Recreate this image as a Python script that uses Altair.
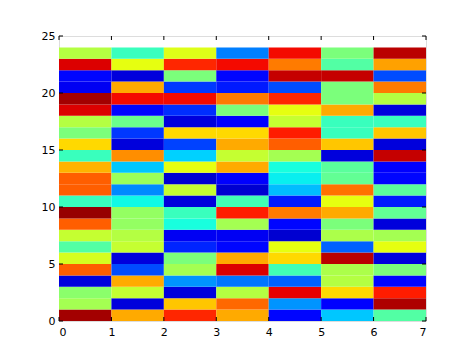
import altair as alt
import pandas as pd

# rows from bottom (row 0) to top (row 23); 7 columns each; values in [0,1] on the jet colormap
row_values = [
    [0.97, 0.73, 0.87, 0.73, 0.13, 0.32, 0.45],  # 0
    [0.55, 0.08, 0.70, 0.80, 0.27, 0.12, 0.96],  # 1
    [0.52, 0.59, 0.08, 0.57, 0.91, 0.68, 0.88],  # 2
    [0.08, 0.73, 0.27, 0.24, 0.22, 0.57, 0.13],  # 3
    [0.81, 0.20, 0.55, 0.92, 0.43, 0.56, 0.50],  # 4
    [0.61, 0.08, 0.50, 0.73, 0.68, 0.95, 0.08],  # 5
    [0.45, 0.59, 0.16, 0.13, 0.63, 0.22, 0.63],  # 6
    [0.59, 0.57, 0.10, 0.10, 0.07, 0.56, 0.55],  # 7
    [0.81, 0.53, 0.38, 0.55, 0.13, 0.50, 0.08],  # 8
    [0.98, 0.53, 0.42, 0.88, 0.78, 0.73, 0.47],  # 9
    [0.42, 0.37, 0.08, 0.43, 0.15, 0.63, 0.15],  # 10
    [0.81, 0.26, 0.59, 0.07, 0.31, 0.79, 0.46],  # 11
    [0.81, 0.54, 0.07, 0.12, 0.36, 0.47, 0.13],  # 12
    [0.72, 0.32, 0.63, 0.73, 0.38, 0.46, 0.12],  # 13
    [0.42, 0.76, 0.33, 0.59, 0.55, 0.08, 0.94],  # 14
    [0.68, 0.08, 0.19, 0.73, 0.81, 0.70, 0.08],  # 15
    [0.50, 0.18, 0.68, 0.68, 0.88, 0.42, 0.70],  # 16
    [0.57, 0.48, 0.08, 0.12, 0.59, 0.42, 0.42],  # 17
    [0.92, 0.13, 0.17, 0.50, 0.63, 0.73, 0.08],  # 18
    [0.97, 0.90, 0.90, 0.78, 0.87, 0.50, 0.57],  # 19
    [0.10, 0.73, 0.18, 0.15, 0.20, 0.50, 0.78],  # 20
    [0.13, 0.08, 0.50, 0.13, 0.94, 0.94, 0.20],  # 21
    [0.92, 0.63, 0.87, 0.90, 0.78, 0.45, 0.74],  # 22
    [0.57, 0.42, 0.62, 0.25, 0.90, 0.50, 0.95],  # 23
]
x_ticks = [0, 1, 2, 3, 4, 5, 6, 7]
y_ticks = [0, 5, 10, 15, 20, 25]

# jet colormap stops
jet_domain = [0, 0.11, 0.125, 0.34, 0.35, 0.375, 0.64, 0.65, 0.66, 0.89, 0.91, 1]
jet_range = ["#000080", "#0000ff", "#0000ff", "#00dbff", "#00e5f7", "#14ffe2",
             "#eeff08", "#f7f500", "#ffec00", "#ff1300", "#e80000", "#800000"]

records = []
for r, vals in enumerate(row_values):
    for c, v in enumerate(vals):
        records.append({"x": c, "x2": c + 1, "y": r, "y2": r + 1, "v": v})
df = pd.DataFrame(records)

W, H = 367, 285

xscale = alt.Scale(domain=[0, 7], nice=False, zero=False)
yscale = alt.Scale(domain=[0, 25], nice=False, zero=False)

cells = alt.Chart(df).mark_rect(strokeWidth=0).encode(
    x=alt.X("x:Q", scale=xscale, axis=alt.Axis(values=x_ticks, title=None, ticks=False,
            grid=False, domain=False, labelFontSize=11, labelPadding=5,
            labelFont="DejaVu Sans", labelColor="black", format="d")),
    x2="x2:Q",
    y=alt.Y("y:Q", scale=yscale, axis=alt.Axis(values=y_ticks, title=None, ticks=False,
            grid=False, domain=False, labelFontSize=11, labelPadding=4,
            labelFont="DejaVu Sans", labelColor="black", format="d")),
    y2="y2:Q",
    color=alt.Color("v:Q", scale=alt.Scale(domain=jet_domain, range=jet_range,
                    interpolate="rgb"), legend=None),
)

xt = pd.DataFrame({"t": x_ticks})
yt = pd.DataFrame({"t": y_ticks})
tick_len = 4
xb = alt.Chart(xt).mark_rule(color="black", strokeWidth=1).encode(
    x=alt.X("t:Q", scale=xscale), y=alt.value(H), y2=alt.value(H - tick_len))
xtop = alt.Chart(xt).mark_rule(color="black", strokeWidth=1).encode(
    x=alt.X("t:Q", scale=xscale), y=alt.value(0), y2=alt.value(tick_len))
yl = alt.Chart(yt).mark_rule(color="black", strokeWidth=1).encode(
    y=alt.Y("t:Q", scale=yscale), x=alt.value(0), x2=alt.value(tick_len))
yr = alt.Chart(yt).mark_rule(color="black", strokeWidth=1).encode(
    y=alt.Y("t:Q", scale=yscale), x=alt.value(W), x2=alt.value(W - tick_len))

chart = alt.layer(cells, xb, xtop, yl, yr).properties(
    width=W, height=H,
    autosize=alt.AutoSizeParams(type="none"),
    padding={"left": 59, "top": 36, "right": 48, "bottom": 36},
).configure_view(stroke="black", strokeWidth=1).configure(background="white")

chart.save("out.html", embed_options={"renderer": "svg", "actions": False})
